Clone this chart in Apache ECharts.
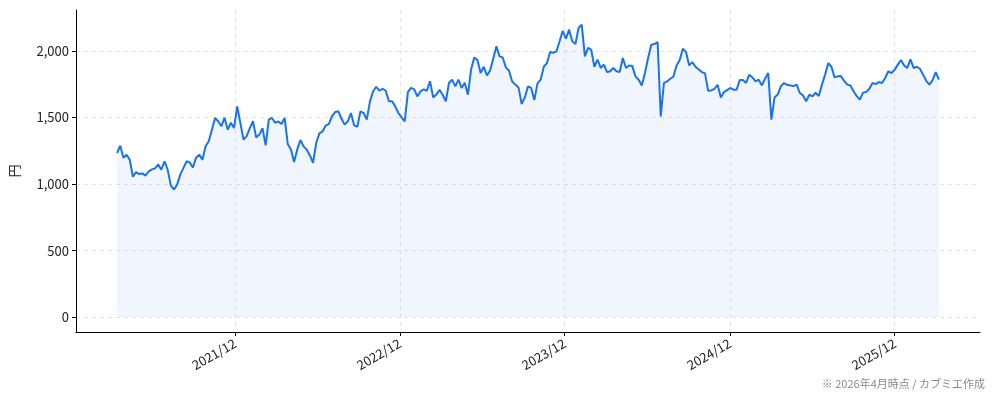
<!DOCTYPE html>
<html>
<head>
<meta charset="utf-8">
<script src="https://cdn.jsdelivr.net/npm/echarts@6/dist/echarts.min.js"></script>
<style>
  html, body { margin: 0; padding: 0; background: #fff; }
  #chart { width: 994px; height: 401px; }
</style>
</head>
<body>
<div id="chart"></div>
<script>
// 週次終値（円） 2021/03/15 から
const startDate = [2021, 2, 15];
const prices = [
  1233, 1288, 1198, 1220, 1183, 1055, 1090, 1075, 1080, 1063,
  1096, 1110, 1118, 1146, 1108, 1171, 1108, 990, 959, 996,
  1071, 1121, 1171, 1161, 1124, 1198, 1221, 1183, 1283, 1321,
  1408, 1496, 1471, 1433, 1498, 1408, 1460, 1420, 1583, 1458,
  1333, 1360, 1420, 1471, 1350, 1371, 1420, 1290, 1483, 1496,
  1460, 1470, 1450, 1496, 1300, 1260, 1165, 1260, 1330, 1283,
  1258, 1215, 1160, 1310, 1380, 1395, 1440, 1450, 1510, 1540,
  1546, 1490, 1446, 1471, 1533, 1440, 1430, 1546, 1533, 1483,
  1620, 1696, 1730, 1700, 1715, 1700, 1621, 1621, 1583, 1533,
  1500, 1471, 1690, 1721, 1710, 1658, 1696, 1710, 1700, 1771,
  1650, 1671, 1708, 1670, 1621, 1758, 1783, 1733, 1783, 1721,
  1760, 1671, 1860, 1950, 1930, 1833, 1880, 1815, 1850, 1940,
  2033, 1958, 1950, 1875, 1850, 1770, 1746, 1725, 1600, 1650,
  1733, 1721, 1630, 1755, 1783, 1880, 1908, 1990, 1985, 1996,
  2071, 2150, 2090, 2158, 2071, 2050, 2171, 2196, 1958, 2021,
  2008, 1880, 1933, 1871, 1896, 1840, 1846, 1871, 1846, 1840,
  1946, 1871, 1890, 1885, 1808, 1783, 1740, 1833, 1946, 2045,
  2050, 2065, 1508, 1758, 1770, 1790, 1805, 1890, 1930, 2015,
  1990, 1890, 1915, 1880, 1860, 1840, 1830, 1700, 1702, 1715,
  1745, 1650, 1690, 1705, 1721, 1708, 1708, 1780, 1780, 1758,
  1821, 1800, 1771, 1783, 1740, 1790, 1833, 1483, 1650, 1671,
  1733, 1758, 1745, 1740, 1735, 1746, 1683, 1665, 1621, 1670,
  1658, 1685, 1660, 1746, 1821, 1908, 1880, 1800, 1808, 1810,
  1775, 1746, 1740, 1696, 1660, 1633, 1686, 1690, 1715, 1758,
  1750, 1765, 1758, 1796, 1846, 1833, 1858, 1896, 1930, 1890,
  1871, 1935, 1871, 1880, 1865, 1821, 1775, 1745, 1780, 1840,
  1783
];
// 目盛り
const xTickDates = [[2021, 11, 1], [2022, 11, 1], [2023, 11, 1], [2024, 11, 1], [2025, 11, 1]];
const yTicks = [0, 500, 1000, 1500, 2000];

const seriesData = prices.map((v, i) => [
  new Date(startDate[0], startDate[1], startDate[2] + 7 * i).getTime(), v
]);
const xTicks = xTickDates.map(d => new Date(d[0], d[1], d[2]).getTime());

const t0 = seriesData[0][0];
const t1 = seriesData[seriesData.length - 1][0];
const pad = (t1 - t0) * 0.05;
const yMaxData = Math.max(...prices);
const yPad = yMaxData * 0.05;

const font = '"Noto Sans CJK JP", "Noto Sans", sans-serif';
const gridLine = { show: true, lineStyle: { color: '#e4e4e8', type: [4, 4], width: 1 } };

const chart = echarts.init(document.getElementById('chart'));
chart.setOption({
  animation: false,
  textStyle: { fontFamily: font },
  grid: { left: 75, right: 14, top: 10, bottom: 69 },
  xAxis: {
    type: 'value',
    min: t0 - pad,
    max: t1 + pad,
    axisLine: { onZero: false, lineStyle: { color: '#000', width: 1 } },
    axisTick: { show: true, length: 4, lineStyle: { color: '#000' }, customValues: xTicks },
    axisLabel: {
      customValues: xTicks,
      rotate: 30,
      color: '#222',
      fontSize: 13,
      fontFamily: font,
      margin: 10,
      formatter: v => {
        const d = new Date(v);
        return d.getFullYear() + '/' + (d.getMonth() + 1);
      }
    },
    splitLine: gridLine
  },
  yAxis: {
    type: 'value',
    min: -yPad,
    max: yMaxData + yPad,
    name: '円',
    nameLocation: 'middle',
    nameGap: 55,
    nameRotate: 90,
    nameTextStyle: { color: '#222', fontSize: 13, fontFamily: font },
    axisLine: { show: true, onZero: false, lineStyle: { color: '#000', width: 1 } },
    axisTick: { show: true, length: 4, lineStyle: { color: '#000' }, customValues: yTicks },
    axisLabel: {
      customValues: yTicks,
      color: '#222',
      fontSize: 13,
      fontFamily: font,
      margin: 7,
      formatter: v => v.toLocaleString('en-US')
    },
    splitLine: gridLine
  },
  series: [{
    type: 'line',
    data: seriesData,
    showSymbol: false,
    lineStyle: { color: '#1a73e8', width: 2 },
    itemStyle: { color: '#1a73e8' },
    areaStyle: { color: 'rgba(26,115,232,0.09)', origin: 0 }
  }],
  graphic: [{
    type: 'text',
    right: 9,
    top: 378,
    style: {
      text: '※ 2026年4月時点 / カブミエ作成',
      fill: '#8a8a8a',
      fontSize: 11,
      fontFamily: font
    }
  }]
});
</script>
</body>
</html>
